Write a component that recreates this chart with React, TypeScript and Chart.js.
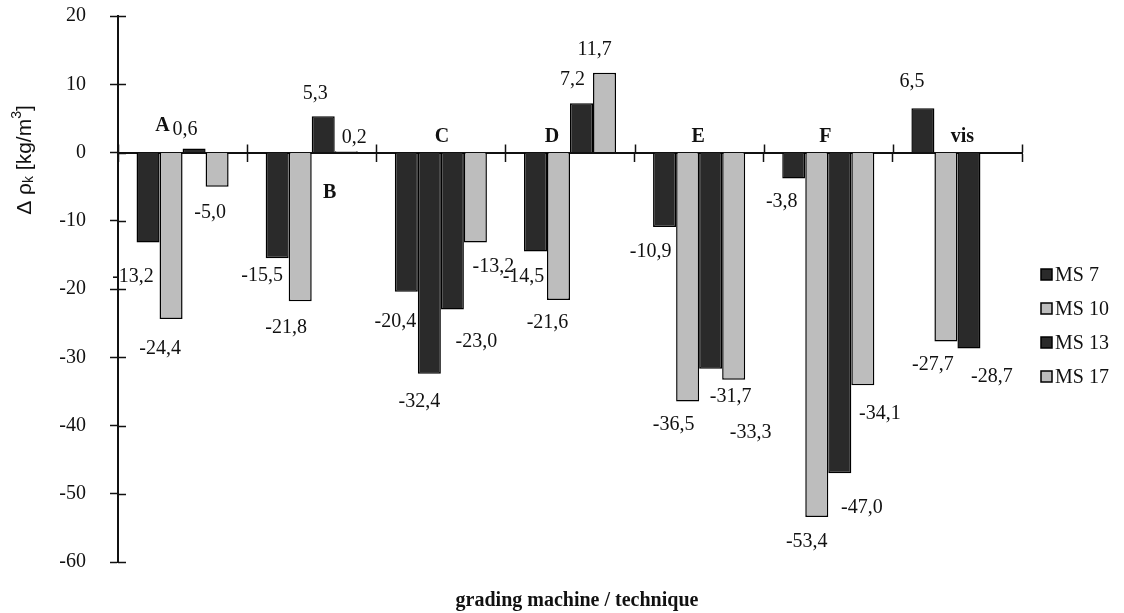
import { useEffect, useRef } from "react";
import { Chart, registerables } from "chart.js";

Chart.register(...registerables);

// ---- data ----
const categories = ["A", "B", "C", "D", "E", "F", "vis"];
const seriesNames = ["MS 7", "MS 10", "MS 13", "MS 17"];
const ms7 = [-13.2, -15.5, -20.4, -14.5, -10.9, -3.8, 6.5];
const ms10 = [-24.4, -21.8, -32.4, -21.6, -36.5, -53.4, -27.7];
const ms13 = [0.6, 5.3, -23.0, 7.2, -31.7, -47.0, -28.7];
const ms17: (number | null)[] = [-5.0, 0.2, -13.2, 11.7, -33.3, -34.1, null];
const yMin = -60;
const yMax = 20;
const yStep = 10;
const yTitle = ["Δ ρ", "k", " [kg/m", "3", "]"];
const xTitle = "grading machine / technique";

const seriesValues = [ms7, ms10, ms13, ms17];

// ---- styles ----
const DARK = "#2a2a2a";
const LIGHT = "#bdbdbd";
const INK = "#111111";
const SERIF = '"Liberation Serif", "Times New Roman", serif';
const SANS = '"Liberation Sans", Arial, sans-serif';

// bar fills per series; in group C the MS 10 bar is printed dark
const seriesFills = [
  categories.map(() => DARK),
  categories.map((c) => (c === "C" ? DARK : LIGHT)),
  categories.map(() => DARK),
  categories.map(() => LIGHT),
];
const legendFills = [DARK, LIGHT, DARK, LIGHT];

// where each value label sits, relative to its bar (centre x, end y)
const valueLabelOffsets: [number, number][][] = [
  [[-15, 34], [-15, 17], [-11, 30], [-12, 25], [-14, 25], [-12, 23], [-11, -26]],
  [[-11, 30], [-14, 26], [-10, 28], [-11, 23], [-14, 23], [-10, 25], [-13, 23]],
  [[-9, -19], [-8, -23], [24, 32], [-9, -24], [20, 28], [22, 34], [23, 28]],
  [[-7, 26], [8, -13], [18, 24], [-10, -23], [17, 53], [17, 29], [0, 0]],
];
// category name positions, relative to category centre and the zero line
const categoryLabelOffsets: [number, number][] = [
  [-20, -27], [18, 40], [1, -16], [-18, -16], [-1, -16], [-3, -16], [5, -16],
];

const fmt = (v: number) => v.toFixed(1).replace(".", ",");

const annotate = {
  id: "annotate",
  afterDatasetsDraw(chart: any) {
    const ctx: CanvasRenderingContext2D = chart.ctx;
    const xs = chart.scales.x;
    const ys = chart.scales.y;
    const zeroY = ys.getPixelForValue(0);
    ctx.save();

    // tick stubs on the inner side of both axes
    ctx.strokeStyle = INK;
    ctx.lineWidth = 1.5;
    ctx.beginPath();
    for (let v = yMin; v <= yMax; v += yStep) {
      const py = Math.round(ys.getPixelForValue(v)) + 0.5;
      ctx.moveTo(ys.right, py);
      ctx.lineTo(ys.right + 8, py);
    }
    const catW = xs.getPixelForValue(1) - xs.getPixelForValue(0);
    for (let i = 0; i <= categories.length; i++) {
      const px = Math.round(xs.getPixelForValue(i) - catW / 2) + 0.5;
      ctx.moveTo(px, zeroY - 8);
      ctx.lineTo(px, zeroY);
    }
    ctx.stroke();

    // value labels
    ctx.fillStyle = INK;
    ctx.font = `20px ${SERIF}`;
    ctx.textAlign = "center";
    ctx.textBaseline = "middle";
    seriesValues.forEach((vals, si) => {
      const meta = chart.getDatasetMeta(si);
      vals.forEach((v, ci) => {
        if (v === null || v === undefined) return;
        const bar = meta.data[ci];
        const [dx, dy] = valueLabelOffsets[si][ci];
        ctx.fillText(fmt(v), bar.x + dx, bar.y + dy);
      });
    });

    // category names
    ctx.font = `bold 20px ${SERIF}`;
    categories.forEach((c, i) => {
      const [dx, dy] = categoryLabelOffsets[i];
      ctx.fillText(c, xs.getPixelForValue(i) + dx, zeroY + dy);
    });

    // x axis title
    ctx.font = `bold 20px ${SERIF}`;
    ctx.fillText(xTitle, (xs.left + xs.right) / 2 + 7, 601);

    // y axis title with subscript and superscript
    const big = `21px ${SANS}`;
    const small = `14px ${SANS}`;
    const parts = yTitle.map((t, i) => ({
      t,
      font: i === 1 || i === 3 ? small : big,
      dy: i === 1 ? 4 : i === 3 ? -8 : 0,
    }));
    let total = 0;
    parts.forEach((p) => {
      ctx.font = p.font;
      total += ctx.measureText(p.t).width;
    });
    ctx.translate(25, 160);
    ctx.rotate(-Math.PI / 2);
    ctx.textAlign = "left";
    let cx = -total / 2;
    parts.forEach((p) => {
      ctx.font = p.font;
      ctx.fillText(p.t, cx, p.dy);
      cx += ctx.measureText(p.t).width;
    });
    ctx.restore();

    // legend
    ctx.save();
    ctx.font = `20px ${SERIF}`;
    ctx.textAlign = "left";
    ctx.textBaseline = "middle";
    seriesNames.forEach((name, i) => {
      const cy = 275 + i * 34;
      ctx.fillStyle = legendFills[i];
      ctx.fillRect(1041, cy - 6, 11, 11);
      ctx.strokeStyle = "#000";
      ctx.lineWidth = 1.5;
      ctx.strokeRect(1041, cy - 6, 11, 11);
      ctx.fillStyle = INK;
      ctx.fillText(name, 1055, cy + 1);
    });
    ctx.restore();
  },
};

export default function App() {
  const canvasRef = useRef<HTMLCanvasElement | null>(null);

  useEffect(() => {
    const canvas = canvasRef.current;
    if (!canvas) return;
    const chart = new Chart(canvas, {
      type: "bar",
      data: {
        labels: categories,
        datasets: seriesNames.map((name, i) => ({
          label: name,
          data: seriesValues[i],
          backgroundColor: seriesFills[i],
          borderColor: "#000",
          borderWidth: 1.5,
        })),
      },
      options: {
        responsive: false,
        animation: false,
        events: [],
        layout: { padding: { left: 8, top: 16, right: 102, bottom: 51 } },
        datasets: {
          bar: { categoryPercentage: 0.713, barPercentage: 1 },
        },
        plugins: {
          legend: { display: false },
          tooltip: { enabled: false },
          title: { display: false },
        },
        scales: {
          x: {
            position: { y: 0 } as any,
            offset: true,
            ticks: { display: false },
            grid: {
              offset: true,
              drawOnChartArea: false,
              drawTicks: true,
              tickLength: 8,
              tickColor: INK,
              tickWidth: 1.5,
            },
            border: { color: INK, width: 2 },
            afterFit: (s: any) => {
              s.height = 0;
            },
          },
          y: {
            min: yMin,
            max: yMax,
            ticks: {
              stepSize: yStep,
              color: INK,
              padding: 24,
              font: { family: SERIF, size: 20 },
            },
            grid: {
              drawOnChartArea: false,
              drawTicks: true,
              tickLength: 8,
              tickColor: INK,
              tickWidth: 1.5,
            },
            border: { color: INK, width: 2 },
            afterFit: (s: any) => {
              s.width = 110;
              // the label padding is horizontal only; keep vertical room small
              s.paddingTop = 12;
              s.paddingBottom = 12;
            },
          },
        },
      },
      plugins: [annotate],
    });
    return () => chart.destroy();
  }, []);

  return (
    <div style={{ position: "fixed", left: 0, top: 0, width: 1124, height: 613, background: "#fff" }}>
      <canvas ref={canvasRef} width={1124} height={613} />
    </div>
  );
}
